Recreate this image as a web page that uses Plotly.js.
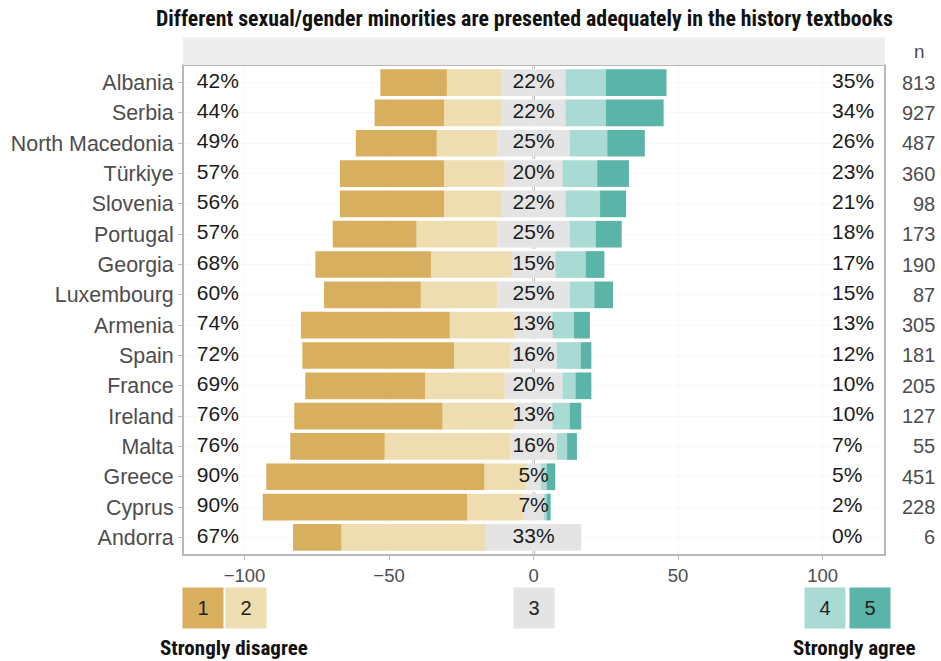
<!DOCTYPE html>
<html>
<head>
<meta charset="utf-8">
<script src="https://cdn.plot.ly/plotly-3.0.1.min.js"></script>
<style>html,body{margin:0;padding:0;background:#fff;}#chart{width:941px;height:661px;}</style>
</head>
<body>
<div id="chart"></div>
<script>
const countries = ["Albania","Serbia","North Macedonia","Türkiye","Slovenia","Portugal","Georgia","Luxembourg","Armenia","Spain","France","Ireland","Malta","Greece","Cyprus","Andorra"];
const stronglyDisagree = [23, 24, 28, 36, 36, 29, 40, 33.5, 51.5, 52.5, 41.5, 51.3, 32.7, 75.5, 70.7, 16.7];
const disagree        = [19, 20, 21, 21, 20, 28, 28, 26.5, 22.5, 19.5, 27.5, 25, 43.5, 14.5, 19.5, 50];
const neutral         = [22, 22, 25, 20, 22, 25, 15, 25, 13, 16, 20, 13, 16, 5, 7, 33];
const agree           = [14, 14, 13, 12, 12, 9, 10.5, 8.5, 7.5, 8.3, 4.5, 6, 3.6, 2, 1, 0];
const stronglyAgree   = [21, 20, 13, 11, 9, 9, 6.5, 6.5, 5.5, 3.7, 5.5, 4, 3.4, 3, 1.4, 0];
const pctDisagree = [42, 44, 49, 57, 56, 57, 68, 60, 74, 72, 69, 76, 76, 90, 90, 67];
const pctAgree    = [35, 34, 26, 23, 21, 18, 17, 15, 13, 12, 10, 10, 7, 5, 2, 0];
const nResp       = [813, 927, 487, 360, 98, 173, 190, 87, 305, 181, 205, 127, 55, 451, 228, 6];
const xTicks = [-100, -50, 0, 50, 100];
const xTickText = ["\u2212100", "\u221250", "0", "50", "100"];
const legendLabels = ["1", "2", "3", "4", "5"];
const legendX = [-114.4, -99.5, 0, 100.7, 116.3];

const colors = ["#D8AF5F", "#EEDDB1", "#E4E4E4", "#A9DBD4", "#5BB4A8"];
const labFont = "Liberation Sans, Arial, Helvetica, sans-serif";
const boldFont = "Liberation Sans Narrow, Roboto Condensed, DejaVu Sans Condensed, Liberation Sans, sans-serif";

function bar(x, color, name) {
  return {type: "bar", orientation: "h", y: countries, x: x, marker: {color: color, line: {width: 0}},
          name: name, showlegend: false, hoverinfo: "skip", width: 0.88};
}
const pctFont = {family: labFont, size: 21, color: "#1a1a1a"};
const traces = [
  bar(neutral.map(v => -v / 2), colors[2], "3a"),
  bar(neutral.map(v => v / 2), colors[2], "3b"),
  bar(disagree.map(v => -v), colors[1], "2"),
  bar(agree, colors[3], "4"),
  bar(stronglyDisagree.map(v => -v), colors[0], "1"),
  bar(stronglyAgree, colors[4], "5"),
  {type: "scatter", mode: "text", y: countries, x: countries.map(() => -116.5), text: pctDisagree.map(v => v + "%"),
   textposition: "middle right", textfont: pctFont, showlegend: false, hoverinfo: "skip", cliponaxis: false},
  {type: "scatter", mode: "text", y: countries, x: countries.map(() => 0), text: neutral.map(v => v + "%"),
   textposition: "middle center", textfont: pctFont, showlegend: false, hoverinfo: "skip", cliponaxis: false},
  {type: "scatter", mode: "text", y: countries, x: countries.map(() => 103.3), text: pctAgree.map(v => v + "%"),
   textposition: "middle right", textfont: pctFont, showlegend: false, hoverinfo: "skip", cliponaxis: false}
];

const annotations = [];
annotations.push({xref: "paper", yref: "paper", x: 0.487, y: 1.094, xanchor: "center", yanchor: "middle", showarrow: false,
  text: "<b>Different sexual/gender minorities are presented adequately in the history textbooks</b>",
  font: {family: boldFont, size: 21.8, color: "#111"}});
annotations.push({xref: "paper", yref: "paper", x: 1.0485, y: 1.027, xanchor: "center", yanchor: "middle", showarrow: false,
  text: "n", font: {family: labFont, size: 19, color: "#4d4d4d"}});
countries.forEach((c, i) => {
  annotations.push({xref: "paper", yref: "y", x: 1.0735, y: c, xanchor: "right", yanchor: "middle", showarrow: false,
    text: String(nResp[i]), font: {family: labFont, size: 20, color: "#4d4d4d"}});
});
legendLabels.forEach((l, i) => {
  annotations.push({xref: "x", yref: "paper", x: legendX[i], y: -0.108, xanchor: "center", yanchor: "middle", showarrow: false,
    text: l, font: {family: labFont, size: 20, color: "#222"}, bgcolor: colors[i], width: 40, height: 40, borderpad: 0});
});
annotations.push({xref: "paper", yref: "paper", x: -0.0356, y: -0.19, xanchor: "left", yanchor: "middle", showarrow: false,
  text: "<b>Strongly disagree</b>", font: {family: boldFont, size: 21, color: "#111"}});
annotations.push({xref: "paper", yref: "paper", x: 1.047, y: -0.19, xanchor: "right", yanchor: "middle", showarrow: false,
  text: "<b>Strongly agree</b>", font: {family: boldFont, size: 21, color: "#111"}});

const layout = {
  width: 941, height: 661,
  margin: {l: 183, r: 56, t: 65, b: 106},
  paper_bgcolor: "#fff", plot_bgcolor: "#fff",
  barmode: "relative", bargap: 0.12,
  xaxis: {range: [-121.3, 121.6], tickvals: xTicks, ticktext: xTickText, tickfont: {family: labFont, size: 18.5, color: "#4d4d4d"},
          ticks: "outside", ticklen: 4, tickcolor: "#b8b8b8", showgrid: true, gridcolor: "#f6f6f6", zeroline: false, showline: false, fixedrange: true},
  yaxis: {type: "category", range: [15.58, -0.58], tickfont: {family: labFont, size: 21.4, color: "#4d4d4d"},
          ticks: "outside", ticklen: 4, tickcolor: "#b8b8b8", showgrid: true, gridcolor: "#f8f8f8", zeroline: false, showline: false, fixedrange: true},
  shapes: [
    {type: "line", xref: "x", yref: "paper", x0: 0, x1: 0, y0: 0, y1: 1, line: {color: "#222", width: 1.5, dash: "dash"}, layer: "below"},
    {type: "rect", xref: "paper", yref: "paper", x0: 0, x1: 1, y0: 0, y1: 1, line: {color: "#b8b8b8", width: 2}, fillcolor: "rgba(0,0,0,0)"},
    {type: "rect", xref: "paper", yref: "paper", x0: 0, x1: 1, y0: 1, y1: 1.056, line: {width: 0}, fillcolor: "#EDEDED"}
  ],
  annotations: annotations,
  showlegend: false
};

Plotly.newPlot("chart", traces, layout, {displayModeBar: false, staticPlot: true});
</script>
</body>
</html>
